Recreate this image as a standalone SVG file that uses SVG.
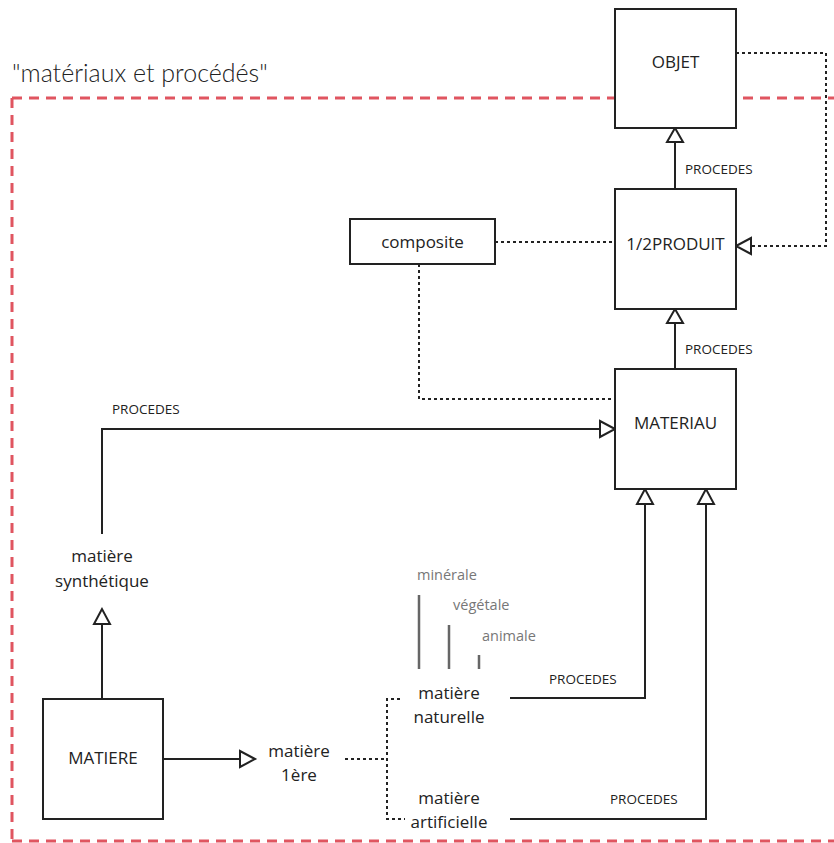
<svg xmlns="http://www.w3.org/2000/svg" width="834" height="843" viewBox="0 0 834 843">
<style>
text{font-family:"Open Sans","Noto Sans","Liberation Sans",sans-serif;fill:#222}
.lbl{font-size:17px;text-anchor:middle}
.box{fill:#fff;stroke:#222;stroke-width:2}
.pro{font-size:13.5px}
.line{fill:none;stroke:#222;stroke-width:2}
.dot{fill:none;stroke:#222;stroke-width:2;stroke-dasharray:3 3}
.tri{fill:#fff;stroke:#222;stroke-width:2}
.gray{fill:#777;font-size:14.5px}
.gl{stroke:#666;stroke-width:2.5}
</style>
<rect width="834" height="843" fill="#fff"/>
<text x="12" y="82" style="font-family:Lato,sans-serif;font-size:25px;font-weight:300">"matériaux et procédés"</text>
<path d="M12 98H834M12 98V843M12 841H834" fill="none" stroke="#e05560" stroke-width="3" stroke-dasharray="10 7"/>
<g id="connectors">
<path class="dot" d="M736 53H826V246H751"/>
<path class="tri" d="M736 246L751 238V254Z"/>
<path class="line" d="M675 189V142"/>
<path class="tri" d="M675 128L667 142H683Z"/>
<text class="pro" x="685" y="174">PROCEDES</text>
<path class="line" d="M675 369V322"/>
<path class="tri" d="M675 309L667 323H683Z"/>
<text class="pro" x="685" y="354">PROCEDES</text>
<path class="dot" d="M495 242H615"/>
<path class="dot" d="M419 264V399H615"/>
<path class="line" d="M102 534V429H600"/>
<path class="tri" d="M615 429L600 421V437Z"/>
<text class="pro" x="112" y="414">PROCEDES</text>
<path class="line" d="M102 699V624"/>
<path class="tri" d="M102 609L94 624H110Z"/>
<path class="line" d="M163 759H240"/>
<path class="tri" d="M255 759L240 751V767Z"/>
<path class="dot" d="M345 759H387M400 699H387V819H405"/>
<path class="line" d="M510 698H645V504"/>
<path class="tri" d="M645 489L637 504H653Z"/>
<text class="pro" x="549" y="684">PROCEDES</text>
<path class="line" d="M510 819H706V504"/>
<path class="tri" d="M706 489L698 504H714Z"/>
<text class="pro" x="610" y="804">PROCEDES</text>
<path class="gl" d="M419 595V669M449 625V669M479 655V669"/>
</g>
<g id="objet"><rect class="box" x="615" y="9" width="121" height="119"/><text class="lbl" x="675.5" y="68">OBJET</text></g>
<g id="produit"><rect class="box" x="615" y="189" width="121" height="120"/><text class="lbl" x="675.5" y="250">1/2PRODUIT</text></g>
<g id="materiau"><rect class="box" x="615" y="369" width="121" height="120"/><text class="lbl" x="675.5" y="429">MATERIAU</text></g>
<g id="composite"><rect class="box" x="350" y="219" width="145" height="45"/><text class="lbl" x="422.5" y="248">composite</text></g>
<g id="matiere"><rect class="box" x="43" y="699" width="120" height="120"/><text class="lbl" x="103" y="764">MATIERE</text></g>
<g id="synthetique"><text class="lbl" x="102" y="562">matière</text><text class="lbl" x="102" y="587">synthétique</text></g>
<g id="premiere"><text class="lbl" x="299" y="757">matière</text><text class="lbl" x="299" y="781">1ère</text></g>
<g id="naturelle"><text class="lbl" x="449" y="699">matière</text><text class="lbl" x="449" y="723">naturelle</text></g>
<g id="artificielle"><text class="lbl" x="449" y="804">matière</text><text class="lbl" x="449" y="828">artificielle</text></g>
<g id="sous-types"><text class="gray" x="417" y="580">minérale</text><text class="gray" x="453" y="610">végétale</text><text class="gray" x="482" y="641">animale</text></g>
</svg>
